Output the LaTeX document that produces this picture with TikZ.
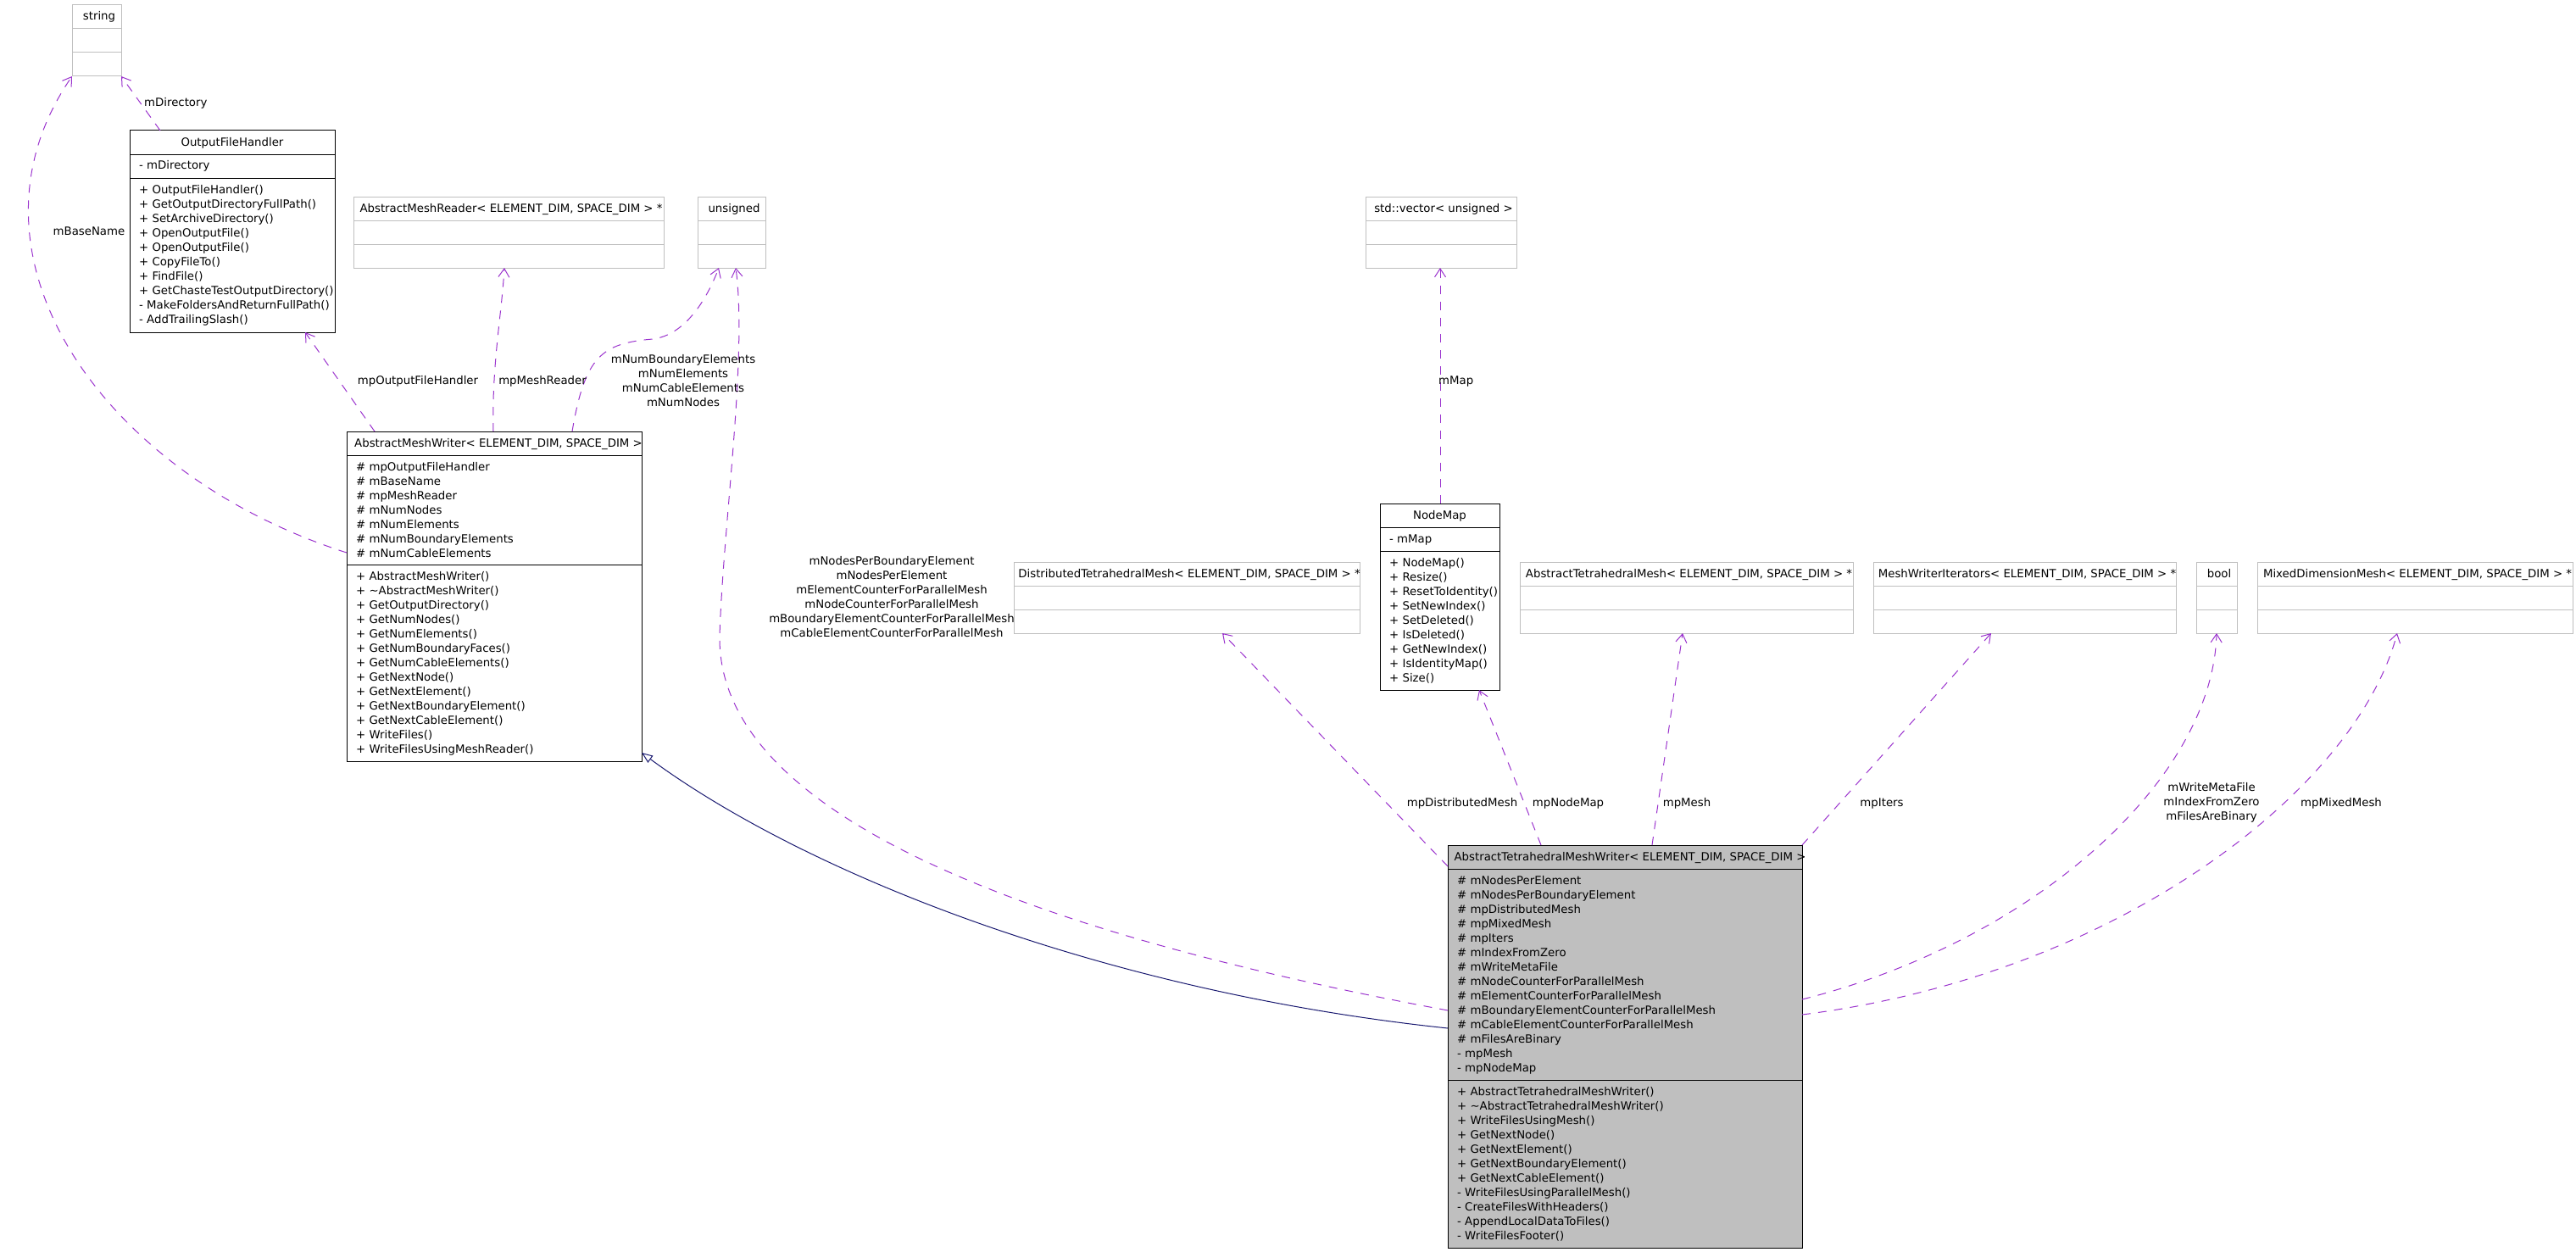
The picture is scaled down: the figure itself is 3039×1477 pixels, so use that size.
\documentclass[tikz,border=0pt]{standalone}
\usepackage{fontspec}
\setmainfont{DejaVu Sans}
\usetikzlibrary{arrows.meta,calc}
\definecolor{edgeuse}{HTML}{9A32CD}
\definecolor{edgeinh}{HTML}{191970}
\definecolor{boxgray}{HTML}{BFBFBF}
\newcommand{\umlfont}{\fontsize{13.3}{17.05}\selectfont}
\tikzset{
  umlbox/.style={draw=black, line width=1pt, inner sep=0pt, outer sep=0pt, anchor=north west},
  extbox/.style={umlbox, draw=boxgray},
  hdr/.style={font=\umlfont, inner sep=0pt, text height=10pt, text depth=2pt},
  mbr/.style={font=\umlfont, inner sep=0pt, anchor=base west},
  lbl/.style={font=\umlfont, inner sep=0pt, text height=10pt, text depth=2pt},
  lbls/.style={font=\umlfont, inner sep=0pt, align=center},
  useedge/.style={draw=edgeuse, line width=1pt, dash pattern=on 10pt off 9pt,
    -{Straight Barb[length=10pt,width=13pt]}},
  inhedge/.style={draw=edgeinh, line width=1pt, -{Triangle[open,length=13pt,width=10pt]}},
}
\begin{document}
\begin{tikzpicture}[x=1pt,y=-1pt]
\useasboundingbox (0,0) rectangle (3039,1477);
% classes that are only used (grey frame, header and two empty rows)
\foreach \nm/\x/\y/\w/\txt in {str/85/6/58/string,
  amr/417/232/366/{AbstractMeshReader< ELEMENT\_DIM, SPACE\_DIM > *},
  uns/823/232/80/unsigned,
  vec/1611/232/178/{std::vector< unsigned >},
  dtm/1196/663/408/{DistributedTetrahedralMesh< ELEMENT\_DIM, SPACE\_DIM > *},
  atm/1793/663/393/{AbstractTetrahedralMesh< ELEMENT\_DIM, SPACE\_DIM > *},
  mwi/2210/663/357/{MeshWriterIterators< ELEMENT\_DIM, SPACE\_DIM > *},
  boo/2591/663/48/bool,
  mdm/2663/663/372/{MixedDimensionMesh< ELEMENT\_DIM, SPACE\_DIM > *}} {
  \node[extbox, minimum width=\w pt, minimum height=84pt] (\nm) at (\x,\y) {};
  \draw[boxgray, line width=1pt] (\x,\y+28) -- (\x+\w,\y+28) (\x,\y+56) -- (\x+\w,\y+56);
  \node[hdr] (\nm-h) at (\x+\w/2+3,\y+14) {\txt};
}
% OutputFileHandler
\node[umlbox, minimum width=242pt, minimum height=238pt] (ofh) at (153,154) {};
\draw[line width=1pt] (153,182) -- (395,182) (153,210) -- (395,210);
\node[hdr] (ofh-h) at (274,168) {OutputFileHandler};
\node[mbr] (ofh-a0) at (164,200) {- mDirectory};
\foreach \t [count=\i from 0] in {+ OutputFileHandler(), + GetOutputDirectoryFullPath(),
  + SetArchiveDirectory(), + OpenOutputFile(), + OpenOutputFile(), + CopyFileTo(),
  + FindFile(), + GetChasteTestOutputDirectory(), - MakeFoldersAndReturnFullPath(),
  - AddTrailingSlash()}
  \node[mbr] (ofh-m\i) at (164,228+17.05*\i) {\t};
% AbstractMeshWriter
\node[umlbox, minimum width=348pt, minimum height=389pt] (amw) at (409,509) {};
\draw[line width=1pt] (409,537) -- (757,537) (409,666) -- (757,666);
\node[hdr] (amw-h) at (588,523) {AbstractMeshWriter< ELEMENT\_DIM, SPACE\_DIM >};
\foreach \t [count=\i from 0] in {\# mpOutputFileHandler, \# mBaseName, \# mpMeshReader,
  \# mNumNodes, \# mNumElements, \# mNumBoundaryElements, \# mNumCableElements}
  \node[mbr] (amw-a\i) at (420,555+17.05*\i) {\t};
\foreach \t [count=\i from 0] in {+ AbstractMeshWriter(), + \textasciitilde AbstractMeshWriter(),
  + GetOutputDirectory(), + GetNumNodes(), + GetNumElements(), + GetNumBoundaryFaces(),
  + GetNumCableElements(), + GetNextNode(), + GetNextElement(), + GetNextBoundaryElement(),
  + GetNextCableElement(), + WriteFiles(), + WriteFilesUsingMeshReader()}
  \node[mbr] (amw-m\i) at (420,684+17.05*\i) {\t};
% NodeMap
\node[umlbox, minimum width=141pt, minimum height=220pt] (nmap) at (1628,594) {};
\draw[line width=1pt] (1628,622) -- (1769,622) (1628,650) -- (1769,650);
\node[hdr] (nmap-h) at (1698.5,608) {NodeMap};
\node[mbr] (nmap-a0) at (1639,640) {- mMap};
\foreach \t [count=\i from 0] in {+ NodeMap(), + Resize(), + ResetToIdentity(),
  + SetNewIndex(), + SetDeleted(), + IsDeleted(), + GetNewIndex(), + IsIdentityMap(), + Size()}
  \node[mbr] (nmap-m\i) at (1639,668+17.05*\i) {\t};
% AbstractTetrahedralMeshWriter
\node[umlbox, fill=boxgray, minimum width=418pt, minimum height=475pt] (atmw) at (1708,997) {};
\draw[line width=1pt] (1708,1025) -- (2126,1025) (1708,1274) -- (2126,1274);
\node[hdr] (atmw-h) at (1923,1011) {AbstractTetrahedralMeshWriter< ELEMENT\_DIM, SPACE\_DIM >};
\foreach \t [count=\i from 0] in {\# mNodesPerElement, \# mNodesPerBoundaryElement,
  \# mpDistributedMesh, \# mpMixedMesh, \# mpIters, \# mIndexFromZero, \# mWriteMetaFile,
  \# mNodeCounterForParallelMesh, \# mElementCounterForParallelMesh,
  \# mBoundaryElementCounterForParallelMesh, \# mCableElementCounterForParallelMesh,
  \# mFilesAreBinary, - mpMesh, - mpNodeMap}
  \node[mbr] (atmw-a\i) at (1719,1043+17.05*\i) {\t};
\foreach \t [count=\i from 0] in {+ AbstractTetrahedralMeshWriter(),
  + \textasciitilde AbstractTetrahedralMeshWriter(), + WriteFilesUsingMesh(), + GetNextNode(),
  + GetNextElement(), + GetNextBoundaryElement(), + GetNextCableElement(),
  - WriteFilesUsingParallelMesh(), - CreateFilesWithHeaders(), - AppendLocalDataToFiles(),
  - WriteFilesFooter()}
  \node[mbr] (atmw-m\i) at (1719,1292+17.05*\i) {\t};
% usage edges
\draw[useedge] ($(ofh.north west)+(36,0)$) -- (str.south east);
\draw[useedge] ($(amw.north west)+(0,143)$) .. controls (120,560) and (-60,300) .. (str.south west);
\draw[useedge] ($(amw.north west)+(33,0)$) -- ($(ofh.south west)+(207,0)$);
\draw[useedge] ($(amw.north west)+(173,0)$) .. controls (580,430) and (592,370) .. ($(amr.south west)+(178,0)$);
\draw[useedge] ($(amw.north west)+(266,0)$) .. controls (690,420) and (710,405) .. (770,400)
  .. controls (810,395) and (835,350) .. ($(uns.south west)+(25,0)$);
\draw[useedge] ($(atmw.north west)+(0,195)$) .. controls (1320,1120) and (845,990) .. (849,750)
  .. controls (853,620) and (882,420) .. ($(uns.south west)+(45,0)$);
\draw[useedge] ($(nmap.north west)+(71,0)$) -- ($(vec.south west)+(88,0)$);
\draw[useedge] ($(atmw.north west)+(0,25)$) -- ($(dtm.south west)+(246,0)$);
\draw[useedge] ($(atmw.north west)+(110,0)$) -- ($(nmap.south west)+(117,0)$);
\draw[useedge] ($(atmw.north west)+(241,0)$) -- ($(atm.south west)+(192,0)$);
\draw[useedge] (atmw.north east) -- ($(mwi.south west)+(139,0)$);
\draw[useedge] ($(atmw.north east)+(0,182)$) .. controls (2400,1110) and (2610,920) .. (boo.south);
\draw[useedge] ($(atmw.north east)+(0,200)$) .. controls (2500,1150) and (2780,930) .. ($(mdm.south west)+(165,0)$);
% inheritance
\draw[inhedge] ($(atmw.north west)+(0,216)$) .. controls (1300,1170) and (950,1030) .. ($(amw.south east)+(0,-10)$);
% edge labels
\node[lbl, anchor=west] (l-dir) at (170,122) {mDirectory};
\node[lbl] (l-base) at (105,273) {mBaseName};
\node[lbl] (l-ofh) at (493,449) {mpOutputFileHandler};
\node[lbl] (l-amr) at (640,449) {mpMeshReader};
\node[lbls] (l-num) at (806,449) {mNumBoundaryElements\\mNumElements\\mNumCableElements\\mNumNodes};
\node[lbls] (l-cnt) at (1052,704) {mNodesPerBoundaryElement\\mNodesPerElement\\mElementCounterForParallelMesh\\mNodeCounterForParallelMesh\\mBoundaryElementCounterForParallelMesh\\mCableElementCounterForParallelMesh};
\node[lbl, anchor=west] (l-map) at (1697,449) {mMap};
\node[lbl] (l-dtm) at (1725,947) {mpDistributedMesh};
\node[lbl] (l-nmap) at (1850,947) {mpNodeMap};
\node[lbl] (l-atm) at (1990,947) {mpMesh};
\node[lbl] (l-mwi) at (2220,947) {mpIters};
\node[lbls] (l-boo) at (2609,947) {mWriteMetaFile\\mIndexFromZero\\mFilesAreBinary};
\node[lbl] (l-mdm) at (2762,947) {mpMixedMesh};
\end{tikzpicture}
\end{document}
